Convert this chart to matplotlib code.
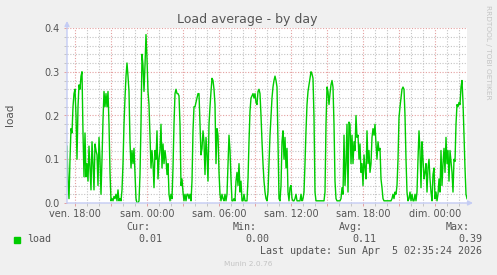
import matplotlib
matplotlib.use("Agg")
import matplotlib.pyplot as plt
import matplotlib.dates as mdates
from matplotlib.patches import Rectangle
from matplotlib.ticker import FuncFormatter, MultipleLocator
import pandas as pd

# 5-minute load average samples, oldest first (ven. 17:20 -> dim. 02:40)
load = [
    0.13, 0.05, 0.01, 0.10, 0.17, 0.16, 0.22, 0.25, 0.26, 0.20,
    0.10, 0.22, 0.27, 0.26, 0.29, 0.30, 0.16, 0.06, 0.16, 0.06,
    0.09, 0.05, 0.13, 0.08, 0.03, 0.14, 0.09, 0.03, 0.135, 0.12,
    0.11, 0.04, 0.15, 0.10, 0.02, 0.10, 0.19, 0.255, 0.22, 0.25,
    0.22, 0.255, 0.18, 0.07, 0.005, 0.01, 0.005, 0.015, 0.01, 0.02,
    0.005, 0.03, 0.005, 0.01, 0.005, 0.03, 0.09, 0.18, 0.24, 0.29,
    0.32, 0.29, 0.255, 0.14, 0.08, 0.12, 0.09,
    # sam. 00:00 area
    0.125, 0.065, 0.01, 0.0, 0.0, 0.005, 0.065, 0.18, 0.34, 0.315,
    0.255, 0.315, 0.385, 0.33, 0.255, 0.225, 0.155, 0.08, 0.12, 0.09,
    0.035, 0.12, 0.10, 0.165, 0.055, 0.10, 0.12, 0.18, 0.08, 0.135,
    0.09, 0.12, 0.10, 0.065, 0.09, 0.02, 0.005, 0.02, 0.01, 0.08,
    0.18, 0.25, 0.26, 0.25, 0.25, 0.245, 0.18, 0.04, 0.055, 0.025,
    0.005, 0.02, 0.005, 0.02, 0.02, 0.01, 0.02, 0.005, 0.05, 0.165,
    0.22, 0.22, 0.23, 0.24, 0.25, 0.25, 0.18, 0.11,
    # sam. 06:00 area
    0.125, 0.165, 0.14, 0.065, 0.15, 0.11, 0.05, 0.18, 0.22, 0.255,
    0.285, 0.28, 0.26, 0.225, 0.09, 0.17, 0.155, 0.07, 0.02, 0.005,
    0.02, 0.01, 0.005, 0.02, 0.005, 0.02, 0.09, 0.155, 0.12, 0.055,
    0.005, 0.005, 0.01, 0.005, 0.05, 0.07, 0.04, 0.09, 0.025, 0.05,
    0.005, 0.005, 0.02, 0.005, 0.005, 0.005, 0.055, 0.14, 0.21, 0.24,
    0.245, 0.25, 0.24, 0.25, 0.23, 0.225, 0.255, 0.26, 0.25, 0.20,
    0.14, 0.09, 0.05, 0.025, 0.01, 0.005, 0.025, 0.09,
    # sam. 12:00 area
    0.155, 0.20, 0.24, 0.265, 0.28, 0.29, 0.28, 0.265, 0.14, 0.01,
    0.005, 0.04, 0.14, 0.165, 0.10, 0.15, 0.08, 0.125, 0.025, 0.005,
    0.035, 0.04, 0.01, 0.005, 0.005, 0.01, 0.02, 0.005, 0.005, 0.005,
    0.005, 0.02, 0.005, 0.01, 0.025, 0.09, 0.165, 0.225, 0.255, 0.27,
    0.285, 0.30, 0.295, 0.285, 0.195, 0.025, 0.005, 0.005, 0.005, 0.005,
    0.005, 0.005, 0.005, 0.005, 0.005, 0.025, 0.18, 0.265, 0.255, 0.225,
    0.25, 0.27, 0.28, 0.265, 0.18, 0.05, 0.01, 0.005,
    # sam. 18:00 area
    0.005, 0.005, 0.005, 0.01, 0.035, 0.02, 0.155, 0.04, 0.09, 0.18,
    0.025, 0.185, 0.18, 0.09, 0.155, 0.09, 0.14, 0.12, 0.20, 0.15,
    0.155, 0.10, 0.135, 0.07, 0.09, 0.04, 0.11, 0.08, 0.055, 0.165,
    0.09, 0.12, 0.07, 0.09, 0.15, 0.17, 0.155, 0.18, 0.135, 0.10,
    0.14, 0.12, 0.125, 0.055, 0.035, 0.01, 0.005, 0.005, 0.005, 0.005,
    0.005, 0.005, 0.005, 0.005, 0.01, 0.02, 0.01, 0.025, 0.02, 0.04,
    0.10, 0.195, 0.22, 0.24, 0.26, 0.265, 0.26, 0.20,
    # dim. 00:00 area
    0.10, 0.025, 0.005, 0.01, 0.025, 0.005, 0.02, 0.005, 0.005, 0.02,
    0.005, 0.025, 0.10, 0.165, 0.12, 0.035, 0.14, 0.10, 0.055, 0.07,
    0.09, 0.025, 0.08, 0.10, 0.055, 0.025, 0.005, 0.065, 0.08, 0.01,
    0.025, 0.005, 0.02, 0.055, 0.025, 0.12, 0.04, 0.09, 0.125, 0.07,
    0.15, 0.09, 0.12, 0.05, 0.12, 0.095, 0.07, 0.025, 0.10, 0.095,
    0.18, 0.225, 0.22, 0.23, 0.225, 0.265, 0.28, 0.23, 0.155, 0.08,
    0.02, 0.01,
]

summary_labels = ["Cur:", "Min:", "Avg:", "Max:"]
summary_values = ["0.01", "0.00", "0.11", "0.39"]
last_update = "Last update: Sun Apr  5 02:35:24 2026"
day_names = {4: "ven.", 5: "sam.", 6: "dim."}

times = pd.date_range(end="2026-04-05 02:40", periods=len(load), freq="5min")

W, H = 497, 275
fig = plt.figure(figsize=(W / 100, H / 100), dpi=100, facecolor="#f0f0f0")
ax = fig.add_axes([67 / W, 1 - 203 / H, 400 / W, 175 / H])
ax.set_facecolor("white")

ax.plot(times, load, color="#00cc00", lw=1.0, zorder=3)
ax.set_xlim(times[0], times[-1])
ax.set_ylim(0, 0.4)

# time axis
ax.xaxis.set_major_locator(mdates.HourLocator(byhour=range(0, 24, 3)))
ax.xaxis.set_minor_locator(mdates.HourLocator())


def time_label(x, pos):
    d = mdates.num2date(x)
    if d.hour % 6:
        return ""
    return f"{day_names.get(d.weekday(), '')} {d:%H:%M}"


ax.xaxis.set_major_formatter(FuncFormatter(time_label))
ax.yaxis.set_major_locator(MultipleLocator(0.1))
ax.yaxis.set_minor_locator(MultipleLocator(0.02))
ax.yaxis.set_major_formatter(FuncFormatter(lambda v, p: f"{v:.1f}"))

ax.set_axisbelow(True)
ax.grid(which="minor", color="#c4c4c4", lw=0.8, ls=(0, (1, 1.5)))
ax.grid(which="major", color="#e4a0a0", lw=0.8, ls=(0, (1, 1.5)))

ax.tick_params(which="both", labelsize=7, labelcolor="#555555", length=2, width=0.7)
ax.tick_params(which="major", color="#e4a0a0")
ax.tick_params(which="minor", color="#c4c4c4")
ax.tick_params(axis="x", pad=2)
ax.tick_params(axis="y", pad=3)

for s in ax.spines.values():
    s.set_visible(False)
axis_color = "#c4ccf4"
ax.annotate("", xy=(0, 1.04), xytext=(0, 0), xycoords="axes fraction",
            arrowprops=dict(arrowstyle="-|>", color=axis_color, lw=1, mutation_scale=7,
                            shrinkA=0, shrinkB=0), annotation_clip=False)
ax.annotate("", xy=(1.015, 0), xytext=(0, 0), xycoords="axes fraction",
            arrowprops=dict(arrowstyle="-|>", color=axis_color, lw=1, mutation_scale=7,
                            shrinkA=0, shrinkB=0), annotation_clip=False)

fig.text(247.5 / W, 1 - 19.5 / H, "Load average - by day", ha="center", va="center",
         fontsize=9, color="#555555")
fig.text(9.5 / W, 1 - 115 / H, "load", rotation=90, ha="center", va="center",
         fontsize=7.5, color="#555555")
fig.text(488 / W, 1 - 52 / H, "RRDTOOL / TOBI OETIKER", rotation=270, ha="center",
         va="center", fontsize=5.3, color="#c4c4c4")

# legend block
mono = dict(family="DejaVu Sans Mono", fontsize=7.2, color="#555555")
fig.add_artist(Rectangle((14 / W, 1 - 243 / H), 6 / W, 6 / H, transform=fig.transFigure,
                         color="#00cc00"))
fig.text(27 / W, 1 - 239.5 / H, "load", ha="left", va="center", **mono)
label_right = [150, 257, 363, 470]
value_right = [162, 269, 376, 482]
for lab, lx in zip(summary_labels, label_right):
    fig.text(lx / W, 1 - 227 / H, lab, ha="right", va="center", **mono)
for val, vx in zip(summary_values, value_right):
    fig.text(vx / W, 1 - 239.5 / H, val, ha="right", va="center", **mono)
fig.text(482 / W, 1 - 251.5 / H, last_update, ha="right", va="center", **mono)
fig.text(248 / W, 1 - 264 / H, "Munin 2.0.76", ha="center", va="center",
         fontsize=5.3, color="#c4c4c4")

fig.savefig("out.png", dpi=100, facecolor=fig.get_facecolor())
